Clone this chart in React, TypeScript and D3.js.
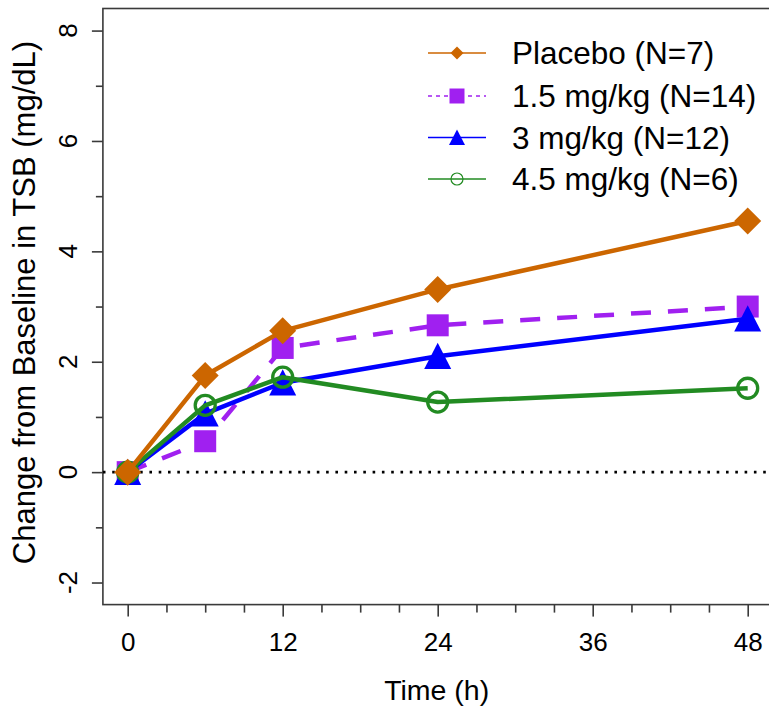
import { useEffect, useRef } from 'react'
import * as d3 from 'd3'

// hours after dose
const hours = [0, 6, 12, 24, 48]

// change from baseline in TSB (mg/dL)
const placebo = [0, 1.75, 2.56, 3.31, 4.55]
const dose15 = [0, 0.56, 2.25, 2.66, 3.0]
const dose3 = [0, 1.06, 1.62, 2.1, 2.78]
const dose45 = [0, 1.21, 1.72, 1.27, 1.52]

const xTicks = [0, 12, 24, 36, 48]
const xMinor = [3, 6, 9, 15, 18, 21, 27, 30, 33, 39, 42, 45]
const yTicks = [-2, 0, 2, 4, 6, 8]
const yMinor = [-1, 1, 3, 5, 7]

const legendLabels = ['Placebo (N=7)', '1.5 mg/kg (N=14)', '3 mg/kg (N=12)', '4.5 mg/kg (N=6)']

const FONT = 'Arial, "Liberation Sans", sans-serif'

type Shape = 'diamond' | 'square' | 'triangle' | 'circle'

const markerPath = (shape: Shape, s: number) => {
  // s = half-size of the mark
  if (shape === 'diamond') return `M0,${-s}L${s},0L0,${s}L${-s},0Z`
  if (shape === 'square') return `M${-s},${-s}H${s}V${s}H${-s}Z`
  if (shape === 'triangle') return `M0,${-s}L${s},${s * 0.95}L${-s},${s * 0.95}Z`
  return d3.arc()({ innerRadius: 0, outerRadius: s, startAngle: 0, endAngle: 2 * Math.PI }) as string
}

const App = () => {
  const ref = useRef<SVGSVGElement>(null)

  useEffect(() => {
    const w = 769
    const h = 706
    const svg = d3.select(ref.current).attr('width', w).attr('height', h)
    svg.selectAll('*').remove()

    const x = d3.scaleLinear().domain([-1.92, 49.92]).range([102.9, 772.5])
    const y = d3.scaleLinear().domain([-2.4, 8.4]).range([604.6, 8.5])

    const axisColor = '#3a3a3a'

    // x axis (major + minor ticks)
    const gx = svg.append('g').attr('transform', `translate(0, ${y(-2.4)})`)
    gx.call(d3.axisBottom(x).tickValues(xTicks).tickSize(12).tickSizeOuter(0).tickPadding(16))
    gx.append('g').call(d3.axisBottom(x).tickValues(xMinor).tickSize(8).tickSizeOuter(0).tickFormat(() => ''))
    gx.selectAll('.domain').remove()
    gx.selectAll('line').attr('stroke', axisColor).attr('stroke-width', 1.6)
    gx.selectAll('text').attr('font-family', FONT).attr('font-size', 26).attr('fill', '#000')

    // y axis, labels rotated like base R
    const gy = svg.append('g').attr('transform', `translate(${x(-1.92)}, 0)`)
    gy.call(d3.axisLeft(y).tickValues(yTicks).tickSize(11).tickSizeOuter(0).tickFormat(() => ''))
    gy.append('g').call(d3.axisLeft(y).tickValues(yMinor).tickSize(7).tickSizeOuter(0).tickFormat(() => ''))
    gy.selectAll('.domain').remove()
    gy.selectAll('line').attr('stroke', axisColor).attr('stroke-width', 1.6)

    svg.append('g')
      .selectAll('text')
      .data(yTicks)
      .enter()
      .append('text')
      .attr('transform', d => `translate(77, ${y(d)}) rotate(-90)`)
      .attr('text-anchor', 'middle')
      .attr('font-family', FONT)
      .attr('font-size', 26)
      .text(d => d)

    // plot box
    svg.append('rect')
      .attr('x', x(-1.92))
      .attr('y', y(8.4))
      .attr('width', x(49.92) - x(-1.92))
      .attr('height', y(-2.4) - y(8.4))
      .attr('fill', 'none')
      .attr('stroke', axisColor)
      .attr('stroke-width', 1.6)

    // axis titles
    svg.append('text')
      .attr('x', (x(-1.92) + x(49.92)) / 2 - 1)
      .attr('y', 700)
      .attr('text-anchor', 'middle')
      .attr('font-family', FONT)
      .attr('font-size', 28.5)
      .text('Time (h)')

    svg.append('text')
      .attr('transform', `translate(35, ${(y(8.4) + y(-2.4)) / 2 - 4}) rotate(-90)`)
      .attr('text-anchor', 'middle')
      .attr('font-family', FONT)
      .attr('font-size', 31)
      .text('Change from Baseline in TSB (mg/dL)')

    // reference line at zero
    svg.append('line')
      .attr('x1', x(-1.92))
      .attr('x2', x(49.92))
      .attr('y1', y(0))
      .attr('y2', y(0))
      .attr('stroke', '#000')
      .attr('stroke-width', 2.6)
      .attr('stroke-dasharray', '2.6 6.7')

    const series = [
      { vals: dose15, color: '#A020F0', dash: '20 17', shape: 'square' as Shape, size: 11, lsize: 7.5 },
      { vals: dose3, color: '#0000FF', dash: null, shape: 'triangle' as Shape, size: 13.5, lsize: 8 },
      { vals: dose45, color: '#228B22', dash: null, shape: 'circle' as Shape, size: 10, lsize: 6 },
      { vals: placebo, color: '#CC6600', dash: null, shape: 'diamond' as Shape, size: 13.5, lsize: 6.5 },
    ]

    const line = d3.line<number>().x((_, i) => x(hours[i])).y(d => y(d))

    series.forEach(s => {
      svg.append('path')
        .attr('d', line(s.vals))
        .attr('fill', 'none')
        .attr('stroke', s.color)
        .attr('stroke-width', 4.5)
        .attr('stroke-dasharray', s.dash)
        .attr('stroke-linejoin', 'round')

      svg.selectAll(null)
        .data(s.vals)
        .enter()
        .append('path')
        .attr('transform', (d, i) => `translate(${x(hours[i])}, ${y(d)})`)
        .attr('d', markerPath(s.shape, s.size))
        .attr('fill', s.shape === 'circle' ? 'none' : s.color)
        .attr('stroke', s.shape === 'circle' ? s.color : 'none')
        .attr('stroke-width', 3.3)
    })

    // legend (placebo first, as in the figure)
    const legendOrder = [series[3], series[0], series[1], series[2]]
    const rows = [53, 96, 137.5, 179]
    const lg = svg.append('g')
    legendOrder.forEach((s, i) => {
      const ry = rows[i]
      lg.append('line')
        .attr('x1', 428)
        .attr('x2', 486)
        .attr('y1', ry)
        .attr('y2', ry)
        .attr('stroke', s.color)
        .attr('stroke-width', 1.3)
        .attr('stroke-dasharray', s.dash ? '4 4' : null)
      lg.append('path')
        .attr('transform', `translate(457, ${ry})`)
        .attr('d', markerPath(s.shape, s.lsize))
        .attr('fill', s.shape === 'circle' ? 'none' : s.color)
        .attr('stroke', s.shape === 'circle' ? s.color : 'none')
        .attr('stroke-width', 1.2)
      lg.append('text')
        .attr('x', 512)
        .attr('y', ry)
        .attr('dy', '0.36em')
        .attr('font-family', FONT)
        .attr('font-size', 31.5)
        .text(legendLabels[i])
    })
  }, [])

  return (
    <div style={{ position: 'absolute', left: 0, top: 0 }}>
      <svg ref={ref} style={{ display: 'block', background: '#fff' }}></svg>
    </div>
  )
}

export default App
